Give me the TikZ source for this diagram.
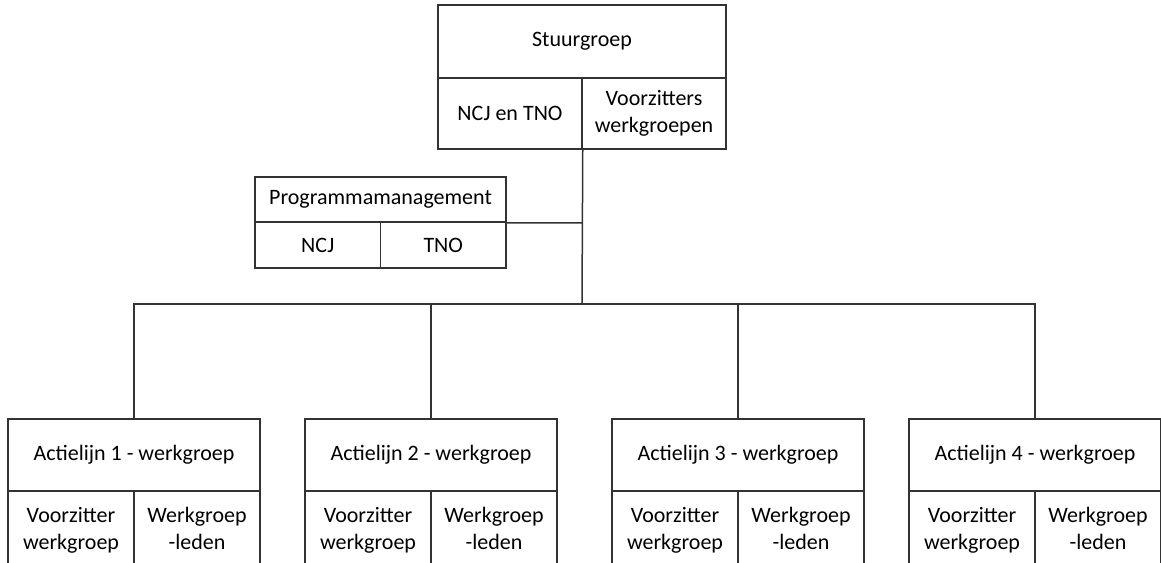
\documentclass[tikz,border=0pt]{standalone}
\usepackage{fontspec}
\setmainfont{Carlito}

\begin{document}
\begin{tikzpicture}[x=1pt,y=-1pt,line width=1.5pt,
        cell/.style={draw=black!80,shape=rectangle,inner sep=0pt,align=center,font=\fontsize{22}{27}\selectfont}]
                \useasboundingbox (0,0) rectangle (1161,562);
                \clip (0,0) rectangle (1161,562);
                \node[cell,minimum width=288,minimum height=73](sg)at(582, 41.5){Stuurgroep};
                \node[cell,minimum width=144,minimum height=71](sg-a)at(510, 113.5){NCJ en TNO};
                \node[cell,minimum width=144,minimum height=71](sg-b)at(654, 113.5){\strut Voorzitters\\werkgroepen\strut};
                \node[cell,minimum width=251,minimum height=45](pm)at(380.5, 199.5){Programmamanagement};
                \node[cell,minimum width=125.5,minimum height=46](pm-a)at(317.75, 245){NCJ};
                \node[cell,minimum width=125.5,minimum height=46](pm-b)at(443.25, 245){TNO};
                \foreach \i/\x in {1/134,2/431,3/738,4/1035}{
                    \node[cell,minimum width=252,minimum height=72](al\i)at(\x, 455){Actielijn \i{} - werkgroep};
                    \node[cell,minimum width=126,minimum height=80](al\i-a)at(\x-63, 531){\strut Voorzitter\\werkgroep\strut};
                    \node[cell,minimum width=126,minimum height=80](al\i-b)at(\x+63, 531){\strut Werkgroep\\-leden\strut};
                }
                \coordinate (bus) at (582, 304);
                \path[draw=black!80] (sg-a.south east) -- (bus)
                (pm.south east) -- (pm.south east -| bus);
                \foreach \i in {1,...,4}
                    \draw[black!80] (al\i.north) |- (bus);
            \end{tikzpicture}
\end{document}
